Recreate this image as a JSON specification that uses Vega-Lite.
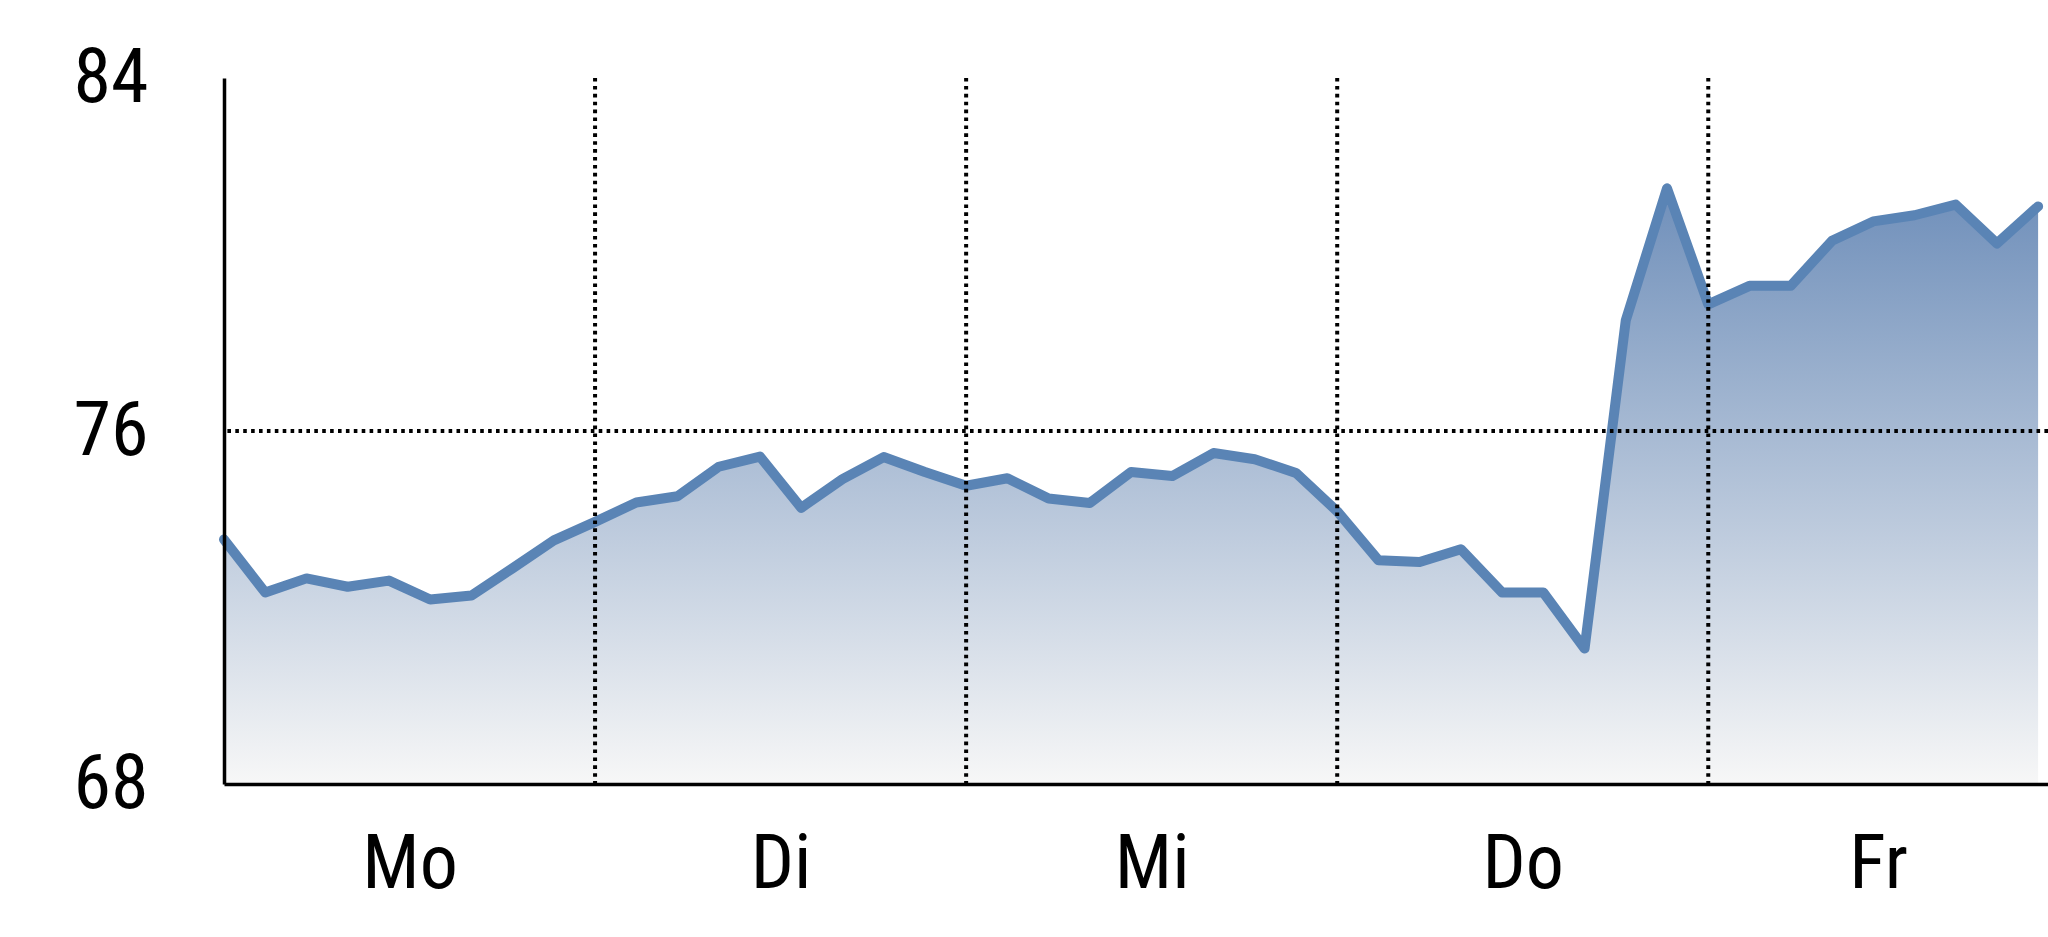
{
  "$schema": "https://vega.github.io/schema/vega-lite/v6.json",
  "width": 1824,
  "height": 706,
  "autosize": {"type": "none"},
  "padding": {"left": 224, "top": 78, "right": 0, "bottom": 153},
  "background": "white",
  "config": {
    "view": {"stroke": null},
    "font": "'Liberation Sans Narrow', 'Arial Narrow', 'Roboto Condensed', 'Liberation Sans', sans-serif"
  },
  "datasets": {
    "series": [
      {"i": 0, "day": "Mo", "value": 73.54},
      {"i": 1, "day": "Mo", "value": 72.34},
      {"i": 2, "day": "Mo", "value": 72.66},
      {"i": 3, "day": "Mo", "value": 72.47},
      {"i": 4, "day": "Mo", "value": 72.61},
      {"i": 5, "day": "Mo", "value": 72.18},
      {"i": 6, "day": "Mo", "value": 72.27},
      {"i": 7, "day": "Mo", "value": 72.89},
      {"i": 8, "day": "Mo", "value": 73.52},
      {"i": 9, "day": "Di", "value": 73.94},
      {"i": 10, "day": "Di", "value": 74.38},
      {"i": 11, "day": "Di", "value": 74.52},
      {"i": 12, "day": "Di", "value": 75.19},
      {"i": 13, "day": "Di", "value": 75.42},
      {"i": 14, "day": "Di", "value": 74.26},
      {"i": 15, "day": "Di", "value": 74.91},
      {"i": 16, "day": "Di", "value": 75.41},
      {"i": 17, "day": "Di", "value": 75.07},
      {"i": 18, "day": "Mi", "value": 74.76},
      {"i": 19, "day": "Mi", "value": 74.93},
      {"i": 20, "day": "Mi", "value": 74.47},
      {"i": 21, "day": "Mi", "value": 74.37},
      {"i": 22, "day": "Mi", "value": 75.07},
      {"i": 23, "day": "Mi", "value": 74.98},
      {"i": 24, "day": "Mi", "value": 75.50},
      {"i": 25, "day": "Mi", "value": 75.36},
      {"i": 26, "day": "Mi", "value": 75.05},
      {"i": 27, "day": "Do", "value": 74.18},
      {"i": 28, "day": "Do", "value": 73.07},
      {"i": 29, "day": "Do", "value": 73.03},
      {"i": 30, "day": "Do", "value": 73.32},
      {"i": 31, "day": "Do", "value": 72.34},
      {"i": 32, "day": "Do", "value": 72.34},
      {"i": 33, "day": "Do", "value": 71.07},
      {"i": 34, "day": "Do", "value": 78.51},
      {"i": 35, "day": "Do", "value": 81.50},
      {"i": 36, "day": "Fr", "value": 78.87},
      {"i": 37, "day": "Fr", "value": 79.29},
      {"i": 38, "day": "Fr", "value": 79.29},
      {"i": 39, "day": "Fr", "value": 80.31},
      {"i": 40, "day": "Fr", "value": 80.75},
      {"i": 41, "day": "Fr", "value": 80.89},
      {"i": 42, "day": "Fr", "value": 81.13},
      {"i": 43, "day": "Fr", "value": 80.25},
      {"i": 44, "day": "Fr", "value": 81.09}
    ],
    "dayBounds": [{"i": 9}, {"i": 18}, {"i": 27}, {"i": 36}],
    "hline": [{"value": 76}]
  },
  "layer": [
    {
      "data": {"name": "series"},
      "mark": {
        "type": "area",
        "fill": {
          "x1": 0, "y1": 0, "x2": 0, "y2": 1,
          "gradient": "linear",
          "stops": [
            {"offset": 0, "color": "#6f8fba"},
            {"offset": 1, "color": "#f7f7f7"}
          ]
        }
      },
      "encoding": {
        "x": {
          "field": "i", "type": "quantitative",
          "scale": {"domain": [0, 44.24], "nice": false, "zero": false},
          "axis": {
            "title": null,
            "values": [4.5, 13.5, 22.5, 31.5, 40.12],
            "labelExpr": "['Mo','Di','Mi','Do','Fr'][floor(datum.value / 9)]",
            "grid": false,
            "ticks": false,
            "tickSize": 0,
            "domain": true,
            "domainColor": "#000000",
            "domainWidth": 3.5,
            "labelFontSize": 76,
            "labelColor": "#000000",
            "labelBaseline": "alphabetic",
            "labelPadding": 103,
            "labelFlush": false,
            "labelOverlap": false,
            "zindex": 1
          }
        },
        "y": {
          "field": "value", "type": "quantitative",
          "scale": {"domain": [68, 84], "nice": false, "zero": false},
          "axis": {
            "title": null,
            "values": [68, 76, 84],
            "grid": false,
            "ticks": false,
            "tickSize": 0,
            "domain": true,
            "domainColor": "#000000",
            "domainWidth": 3.5,
            "labelFontSize": 76,
            "labelColor": "#000000",
            "labelPadding": 76,
            "labelBaseline": "middle",
            "labelFlush": false,
            "labelOverlap": false,
            "zindex": 1
          }
        },
        "y2": {"datum": 68}
      }
    },
    {
      "data": {"name": "series"},
      "mark": {"type": "line", "color": "#5a84b5", "strokeWidth": 10, "strokeCap": "round", "strokeJoin": "round"},
      "encoding": {
        "x": {"field": "i", "type": "quantitative"},
        "y": {"field": "value", "type": "quantitative"}
      }
    },
    {
      "data": {"name": "dayBounds"},
      "mark": {"type": "rule", "color": "#000000", "strokeWidth": 4, "strokeDash": [3.6, 4.3]},
      "encoding": {
        "x": {"field": "i", "type": "quantitative"}
      }
    },
    {
      "data": {"name": "hline"},
      "mark": {"type": "rule", "color": "#000000", "strokeWidth": 4, "strokeDash": [3.6, 4.3]},
      "encoding": {
        "y": {"field": "value", "type": "quantitative"}
      }
    }
  ]
}
